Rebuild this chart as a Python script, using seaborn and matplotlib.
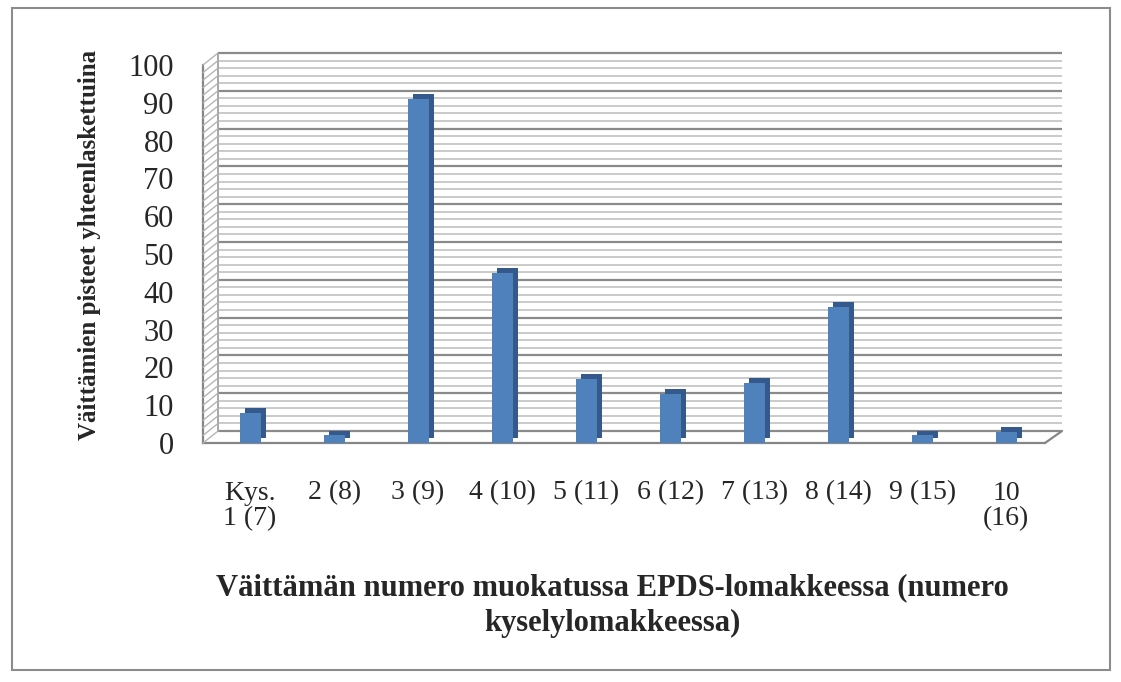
import matplotlib
matplotlib.use("Agg")
import matplotlib.pyplot as plt
import matplotlib.patheffects as pe
from matplotlib.patches import Rectangle
from matplotlib.lines import Line2D
from matplotlib.transforms import ScaledTranslation
import seaborn as sns
import pandas as pd

categories = ["Kys.\n1 (7)", "2 (8)", "3 (9)", "4 (10)", "5 (11)", "6 (12)",
              "7 (13)", "8 (14)", "9 (15)", "10\n(16)"]
points = [8, 2, 91, 45, 17, 13, 16, 36, 2, 3]
yticks = [0, 10, 20, 30, 40, 50, 60, 70, 80, 90, 100]

df = pd.DataFrame({"kysymys": categories, "pisteet": points})

sns.set_style("white")
plt.rcParams["font.family"] = ["Liberation Serif", "DejaVu Serif"]

W, H = 1121, 682
fig = plt.figure(figsize=(W / 100, H / 100), dpi=100)
ax = fig.add_axes([203 / W, 1 - 443 / H, (1045 - 203) / W, (443 - 65) / H])
ax.set_ylim(0, 100)
ax.set_xlim(-0.56, len(categories) - 0.54)

# 3D-looking back wall: gridlines pushed back and up, side wall diagonals
dx, dy = 15, 12
back = ax.get_yaxis_transform() + ScaledTranslation(dx / 100, dy / 100, fig.dpi_scale_trans)
for v in range(0, 101, 2):
    major = v % 10 == 0
    col = "#8a8a8a" if major else "#c6c6c6"
    lw = 1.6 if major else 1.3
    ax.plot([0, 1 + 2 / 842], [v, v], transform=back, color=col, lw=lw,
            zorder=0, clip_on=False, solid_capstyle="butt")
    p0 = ax.get_yaxis_transform().transform((0, v))
    fig.add_artist(Line2D([p0[0] / W, (p0[0] + dx) / W], [p0[1] / H, (p0[1] + dy) / H],
                          transform=fig.transFigure, color="#b5b5b5", lw=1.0, zorder=0.5))
# back-left edge
ax.plot([0, 0], [0, 100], transform=back, color="#9a9a9a", lw=1.2, clip_on=False, zorder=0)
# floor right edge
p1 = ax.transAxes.transform((1, 0))
fig.add_artist(Line2D([p1[0] / W, (p1[0] + dx + 2) / W], [p1[1] / H, (p1[1] + dy) / H],
                      transform=fig.transFigure, color="#868686", lw=1.6, zorder=1))

sns.barplot(data=df, x="kysymys", y="pisteet", color="#4f81bd",
            saturation=1, width=0.25, linewidth=0, ax=ax, zorder=3)
for bar in ax.patches:
    bar.set_path_effects([
        pe.SimplePatchShadow(offset=(3.8, 3.4), shadow_rgbFace="#35598a", alpha=1),
        pe.Normal(),
    ])

ax.set_ylim(0, 100)
ax.set_xlim(-0.56, len(categories) - 0.54)
ax.set_yticks(yticks)
ax.tick_params(axis="y", labelsize=22, length=7, width=1.6, color="#868686",
               direction="out", pad=14)
ax.tick_params(axis="x", labelsize=20, length=0, pad=27)
for lbl in ax.get_xticklabels():
    lbl.set_linespacing(1.05)
    lbl.set_verticalalignment("top")

for s in ["top", "right"]:
    ax.spines[s].set_visible(False)
ax.spines["left"].set_color("#868686")
ax.spines["left"].set_linewidth(1.6)
ax.spines["bottom"].set_color("#868686")
ax.spines["bottom"].set_linewidth(1.6)

ax.set_xlabel("")
ax.set_ylabel("")
fig.text(90 / W, 1 - 245 / H, "Väittämien pisteet yhteenlaskettuina", fontsize=18,
         fontweight="bold", rotation=90, ha="center", va="center")
fig.text(612 / W, 1 - 606 / H,
         "Väittämän numero muokatussa EPDS-lomakkeessa (numero\nkyselylomakkeessa)",
         fontsize=22, fontweight="bold", ha="center", va="center",
         linespacing=1.3)

fig.patches.append(Rectangle((12 / W, 1 - 670 / H), 1098 / W, 662 / H,
                             transform=fig.transFigure, fill=False,
                             edgecolor="#8c8c8c", lw=1.5))

fig.savefig("out.png", dpi=100)
